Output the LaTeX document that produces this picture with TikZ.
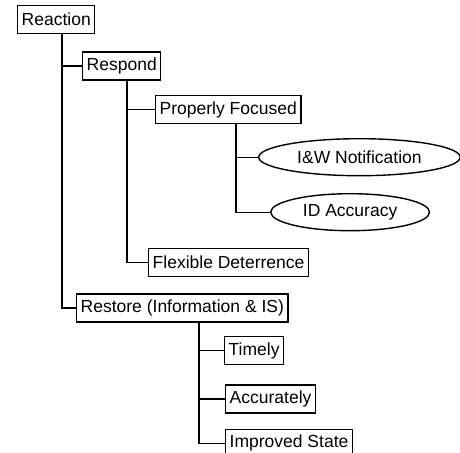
\documentclass[tikz,border=0pt]{standalone}
\usepackage{fontspec}
\setmainfont{Liberation Sans}
\usetikzlibrary{positioning,shapes.geometric}

\begin{document}
\begin{tikzpicture}[
    box/.style={rectangle,draw,line width=1.4pt,inner xsep=4pt,inner ysep=0pt,
      minimum height=28pt,font=\fontsize{17.5}{21}\selectfont},
    oval/.style={ellipse,draw,line width=1.4pt,inner xsep=9pt,inner ysep=0pt,
      minimum height=37pt,font=\fontsize{17.5}{21}\selectfont},
    branch/.style={line width=1.4pt}]
  \useasboundingbox (0,0) rectangle (460pt,-452pt);

  \node[box,anchor=north west] (reaction) at (17pt,-5pt) {Reaction};
  \node[box,below right=17pt and 65pt of reaction.south west] (respond) {Respond};
  \node[box,below right=14pt and 73pt of respond.south west] (focused) {Properly Focused};
  \node[oval,below right=33pt and 103pt of focused.south west,anchor=west] (notify) {I\&W Notification};
  \node[oval,below right=55pt and 12pt of notify.west,anchor=west] (idacc) {ID Accuracy};
  \node[box,below right=167pt and 66pt of respond.south west] (flexible) {Flexible Deterrence};
  \node[box,below right=259pt and 59pt of reaction.south west] (restore) {Restore (Information \& IS)};
  \node[box,below right=13pt and 148pt of restore.south west] (timely) {Timely};
  \node[box,below right=19pt and 1pt of timely.south west] (accurate) {Accurately};
  \node[box,below right=15pt and 0pt of accurate.south west] (improved) {Improved State};

  \draw[branch] ([xshift=45pt]reaction.south west) |- (respond.west);
  \draw[branch] ([xshift=45pt]reaction.south west) |- (restore.west);
  \draw[branch] ([xshift=45pt]respond.south west) |- (focused.west);
  \draw[branch] ([xshift=45pt]respond.south west) |- (flexible.west);
  \draw[branch] ([xshift=81pt]focused.south west) |- (notify.west);
  \draw[branch] ([xshift=81pt]focused.south west) |- (idacc.west);
  \draw[branch] ([xshift=123pt]restore.south west) |- (timely.west);
  \draw[branch] ([xshift=123pt]restore.south west) |- (accurate.west);
  \draw[branch] ([xshift=123pt]restore.south west) |- (improved.west);
\end{tikzpicture}
\end{document}
